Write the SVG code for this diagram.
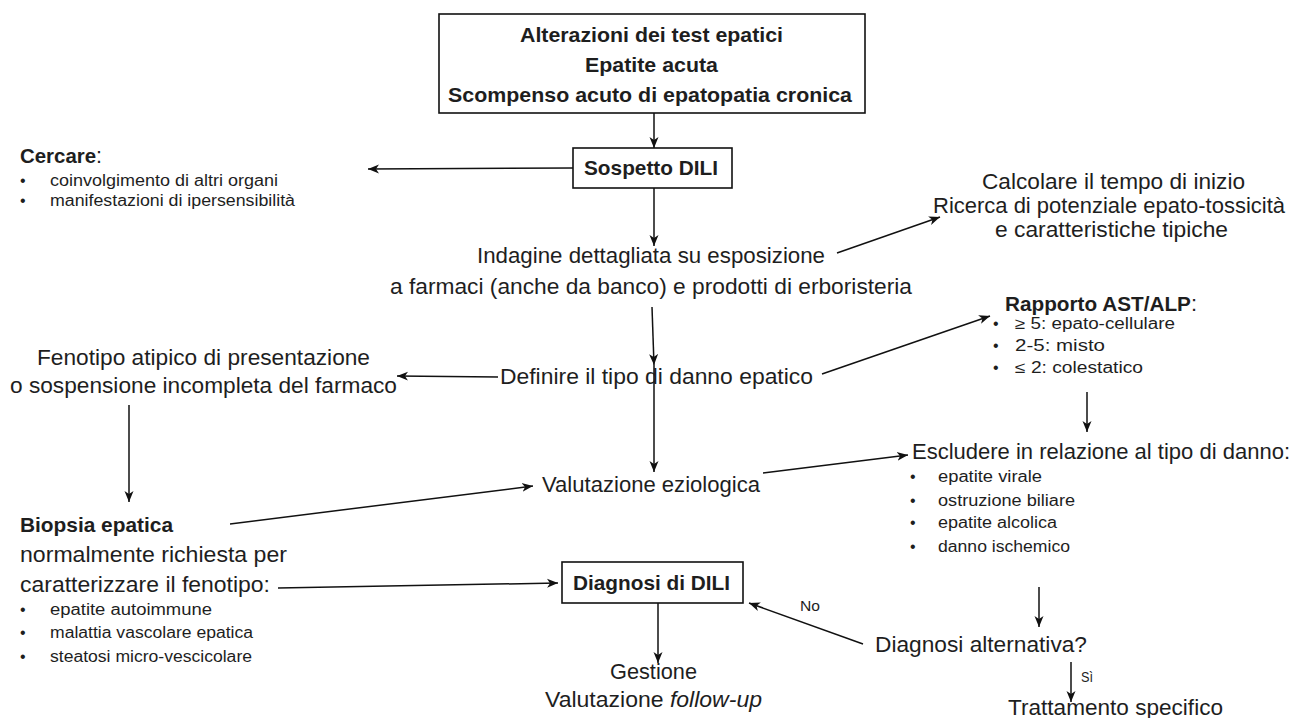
<svg xmlns="http://www.w3.org/2000/svg" width="1303" height="718" viewBox="0 0 1303 718">
<style>
text{font-family:"Liberation Sans",Arial,sans-serif;fill:#1e1e1e}
.m{font-size:21.5px}
.b{font-weight:bold;font-size:20.5px}
.s{font-size:16px}
.l{font-size:14px}
.box{fill:#fff;stroke:#111;stroke-width:1.6}
.e{stroke:#111;stroke-width:1.5;fill:none;marker-end:url(#ah)}
</style>
<defs>
<marker id="ah" markerUnits="userSpaceOnUse" markerWidth="12" markerHeight="12" refX="11" refY="6" orient="auto">
<path d="M0,1.5 L11,6 L0,10.5 L3,6 Z" fill="#111"/>
</marker>
</defs>
<rect width="1303" height="718" fill="#fff"/>
<g id="connectors">
<line class="e" x1="654" y1="113" x2="654" y2="148"/>
<line class="e" x1="573" y1="168" x2="368" y2="169"/>
<line class="e" x1="654" y1="188" x2="654" y2="246"/>
<line class="e" x1="837" y1="253" x2="940" y2="217"/>
<line class="e" x1="652" y1="307" x2="654" y2="365"/>
<line class="e" x1="654" y1="365" x2="654" y2="472"/>
<line class="e" x1="498" y1="377" x2="397" y2="376"/>
<line class="e" x1="822" y1="374" x2="990" y2="316"/>
<line class="e" x1="129" y1="405" x2="129" y2="502"/>
<line class="e" x1="230" y1="524" x2="533" y2="486"/>
<line class="e" x1="763" y1="473" x2="908" y2="455"/>
<line class="e" x1="1087" y1="392" x2="1087" y2="432"/>
<line class="e" x1="1039" y1="587" x2="1039" y2="627"/>
<line class="e" x1="1071" y1="662" x2="1071" y2="702"/>
<line class="e" x1="863" y1="644" x2="749" y2="603"/>
<line class="e" x1="278" y1="588" x2="558" y2="583"/>
<line class="e" x1="658" y1="603" x2="658" y2="663"/>
<text class="l" x="800" y="611" textLength="20" lengthAdjust="spacingAndGlyphs">No</text>
<text class="l" x="1081" y="682" textLength="12" lengthAdjust="spacingAndGlyphs">Sì</text>
</g>
<g id="n-start">
<rect class="box" x="439" y="14" width="426" height="99"/>
<text class="b" x="520" y="42" textLength="263" lengthAdjust="spacingAndGlyphs">Alterazioni dei test epatici</text>
<text class="b" x="585" y="72" textLength="133" lengthAdjust="spacingAndGlyphs">Epatite acuta</text>
<text class="b" x="448" y="102" textLength="404" lengthAdjust="spacingAndGlyphs">Scompenso acuto di epatopatia cronica</text>
</g>
<g id="n-sospetto">
<rect class="box" x="573" y="148" width="159" height="40"/>
<text class="b" x="584" y="175" textLength="134" lengthAdjust="spacingAndGlyphs">Sospetto DILI</text>
</g>
<g id="n-cercare">
<text class="m" x="20" y="163" textLength="82" lengthAdjust="spacingAndGlyphs"><tspan class="b">Cercare</tspan>:</text>
<text class="s" x="20" y="186">•</text>
<text class="s" x="50" y="186" textLength="228" lengthAdjust="spacingAndGlyphs">coinvolgimento di altri organi</text>
<text class="s" x="20" y="206">•</text>
<text class="s" x="50" y="206" textLength="245" lengthAdjust="spacingAndGlyphs">manifestazioni di ipersensibilità</text>
</g>
<g id="n-indagine">
<text class="m" x="477" y="263" textLength="348" lengthAdjust="spacingAndGlyphs">Indagine dettagliata su esposizione</text>
<text class="m" x="390" y="294" textLength="522" lengthAdjust="spacingAndGlyphs">a farmaci (anche da banco) e prodotti di erboristeria</text>
</g>
<g id="n-calcolare">
<text class="m" x="982" y="189" textLength="263" lengthAdjust="spacingAndGlyphs">Calcolare il tempo di inizio</text>
<text class="m" x="933" y="213" textLength="352" lengthAdjust="spacingAndGlyphs">Ricerca di potenziale epato-tossicità</text>
<text class="m" x="995" y="237" textLength="233" lengthAdjust="spacingAndGlyphs">e caratteristiche tipiche</text>
</g>
<g id="n-rapporto">
<text class="m" x="1005" y="311" textLength="192" lengthAdjust="spacingAndGlyphs"><tspan class="b">Rapporto AST/ALP</tspan>:</text>
<text class="s" x="993" y="329">•</text>
<text class="s" x="1015" y="329" textLength="160" lengthAdjust="spacingAndGlyphs">≥ 5: epato-cellulare</text>
<text class="s" x="993" y="351">•</text>
<text class="s" x="1015" y="351" textLength="90" lengthAdjust="spacingAndGlyphs">2-5: misto</text>
<text class="s" x="993" y="373">•</text>
<text class="s" x="1015" y="373" textLength="128" lengthAdjust="spacingAndGlyphs">≤ 2: colestatico</text>
</g>
<g id="n-definire">
<text class="m" x="500" y="384" textLength="313" lengthAdjust="spacingAndGlyphs">Definire il tipo di danno epatico</text>
</g>
<g id="n-fenotipo">
<text class="m" x="37" y="365" textLength="333" lengthAdjust="spacingAndGlyphs">Fenotipo atipico di presentazione</text>
<text class="m" x="10" y="393" textLength="387" lengthAdjust="spacingAndGlyphs">o sospensione incompleta del farmaco</text>
</g>
<g id="n-valutazione">
<text class="m" x="542" y="492" textLength="218" lengthAdjust="spacingAndGlyphs">Valutazione eziologica</text>
</g>
<g id="n-escludere">
<text class="m" x="912" y="459" textLength="378" lengthAdjust="spacingAndGlyphs">Escludere in relazione al tipo di danno:</text>
<text class="s" x="910" y="482">•</text>
<text class="s" x="938" y="482" textLength="104" lengthAdjust="spacingAndGlyphs">epatite virale</text>
<text class="s" x="910" y="506">•</text>
<text class="s" x="938" y="506" textLength="137" lengthAdjust="spacingAndGlyphs">ostruzione biliare</text>
<text class="s" x="910" y="528">•</text>
<text class="s" x="938" y="528" textLength="119" lengthAdjust="spacingAndGlyphs">epatite alcolica</text>
<text class="s" x="910" y="552">•</text>
<text class="s" x="938" y="552" textLength="132" lengthAdjust="spacingAndGlyphs">danno ischemico</text>
</g>
<g id="n-biopsia">
<text class="b" x="20" y="532" textLength="153" lengthAdjust="spacingAndGlyphs">Biopsia epatica</text>
<text class="m" x="20" y="562" textLength="267" lengthAdjust="spacingAndGlyphs">normalmente richiesta per</text>
<text class="m" x="20" y="592" textLength="250" lengthAdjust="spacingAndGlyphs">caratterizzare il fenotipo:</text>
<text class="s" x="20" y="615">•</text>
<text class="s" x="50" y="615" textLength="162" lengthAdjust="spacingAndGlyphs">epatite autoimmune</text>
<text class="s" x="20" y="638">•</text>
<text class="s" x="50" y="638" textLength="203" lengthAdjust="spacingAndGlyphs">malattia vascolare epatica</text>
<text class="s" x="20" y="662">•</text>
<text class="s" x="50" y="662" textLength="202" lengthAdjust="spacingAndGlyphs">steatosi micro-vescicolare</text>
</g>
<g id="n-diagnosi">
<rect class="box" x="562" y="562" width="181" height="41"/>
<text class="b" x="573" y="590" textLength="157" lengthAdjust="spacingAndGlyphs">Diagnosi di DILI</text>
</g>
<g id="n-gestione">
<text class="m" x="610" y="679" textLength="87" lengthAdjust="spacingAndGlyphs">Gestione</text>
<text class="m" x="545" y="707" textLength="217" lengthAdjust="spacingAndGlyphs">Valutazione <tspan font-style="italic">follow-up</tspan></text>
</g>
<g id="n-alternativa">
<text class="m" x="875" y="652" textLength="212" lengthAdjust="spacingAndGlyphs">Diagnosi alternativa?</text>
</g>
<g id="n-trattamento">
<text class="m" x="1008" y="715" textLength="215" lengthAdjust="spacingAndGlyphs">Trattamento specifico</text>
</g>
</svg>
